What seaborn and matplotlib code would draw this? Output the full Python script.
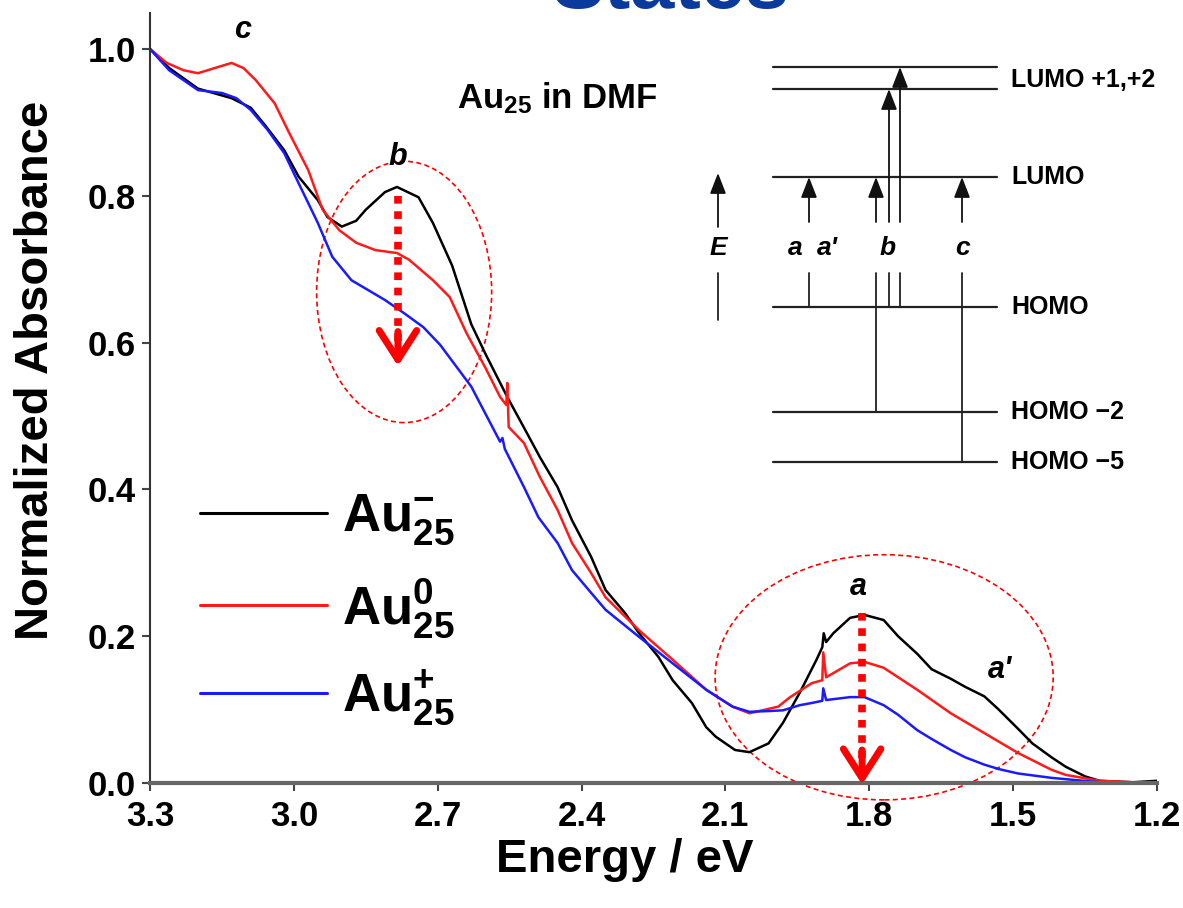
import numpy as np
import pandas as pd
import matplotlib
matplotlib.use("Agg")
import matplotlib.pyplot as plt
import seaborn as sns
from matplotlib.patches import Ellipse

# ---------------- data ----------------
energy_neg = [3.30, 3.26, 3.20, 3.13, 3.09, 3.06, 3.02, 2.99, 2.95, 2.93, 2.90, 2.87, 2.85,
              2.81, 2.785, 2.74, 2.71, 2.67, 2.63, 2.60, 2.555, 2.52, 2.487, 2.45, 2.42, 2.38,
              2.35, 2.31, 2.28, 2.24, 2.21, 2.17, 2.14, 2.12, 2.08, 2.05, 2.01, 1.98, 1.945,
              1.91, 1.898, 1.895, 1.89, 1.875, 1.84, 1.81, 1.77, 1.74, 1.70, 1.67, 1.63, 1.60,
              1.56, 1.53, 1.49, 1.46, 1.42, 1.39, 1.35, 1.32, 1.25, 1.20]
abs_neg = [1.000, 0.974, 0.946, 0.933, 0.920, 0.896, 0.862, 0.826, 0.794, 0.771, 0.758, 0.766,
           0.781, 0.805, 0.812, 0.798, 0.763, 0.705, 0.625, 0.584, 0.526, 0.484, 0.444, 0.403,
           0.358, 0.308, 0.263, 0.232, 0.204, 0.172, 0.140, 0.109, 0.076, 0.063, 0.045, 0.042,
           0.054, 0.082, 0.123, 0.168, 0.185, 0.204, 0.192, 0.204, 0.225, 0.229, 0.222, 0.200,
           0.176, 0.155, 0.142, 0.131, 0.118, 0.100, 0.074, 0.054, 0.035, 0.022, 0.009, 0.003,
           0.001, 0.003]

energy_neu = [3.30, 3.265, 3.23, 3.20, 3.16, 3.13, 3.105, 3.08, 3.04, 3.01, 2.97, 2.94, 2.905,
              2.87, 2.83, 2.785, 2.76, 2.71, 2.675, 2.64, 2.60, 2.57, 2.557, 2.555, 2.552, 2.52,
              2.487, 2.45, 2.42, 2.38, 2.35, 2.28, 2.21, 2.14, 2.085, 2.05, 1.99, 1.965, 1.92,
              1.898, 1.896, 1.89, 1.84, 1.81, 1.77, 1.70, 1.63, 1.56, 1.49, 1.42, 1.39, 1.32,
              1.25, 1.20]
abs_neu = [1.000, 0.981, 0.971, 0.967, 0.975, 0.981, 0.974, 0.958, 0.926, 0.886, 0.835, 0.781,
           0.753, 0.736, 0.726, 0.722, 0.713, 0.685, 0.662, 0.613, 0.565, 0.526, 0.515, 0.545,
           0.485, 0.463, 0.417, 0.372, 0.327, 0.286, 0.253, 0.208, 0.168, 0.127, 0.104, 0.095,
           0.104, 0.117, 0.136, 0.140, 0.178, 0.144, 0.163, 0.165, 0.157, 0.127, 0.095, 0.068,
           0.041, 0.018, 0.011, 0.003, 0.001, 0.001]

energy_pos = [3.30, 3.26, 3.20, 3.15, 3.12, 3.09, 3.055, 3.02, 2.99, 2.95, 2.92, 2.88, 2.81,
              2.77, 2.73, 2.695, 2.63, 2.57, 2.565, 2.56, 2.52, 2.49, 2.45, 2.42, 2.38, 2.35,
              2.28, 2.21, 2.14, 2.085, 2.05, 2.01, 1.98, 1.945, 1.92, 1.898, 1.896, 1.89, 1.84,
              1.81, 1.77, 1.74, 1.70, 1.67, 1.63, 1.60, 1.56, 1.53, 1.49, 1.42, 1.32, 1.28, 1.20]
abs_pos = [1.000, 0.971, 0.944, 0.940, 0.933, 0.917, 0.890, 0.858, 0.817, 0.763, 0.717, 0.685,
           0.658, 0.640, 0.621, 0.597, 0.540, 0.465, 0.470, 0.455, 0.403, 0.362, 0.327, 0.290,
           0.259, 0.236, 0.199, 0.163, 0.127, 0.104, 0.097, 0.098, 0.099, 0.106, 0.109, 0.112,
           0.129, 0.113, 0.117, 0.117, 0.106, 0.093, 0.072, 0.060, 0.045, 0.035, 0.025, 0.019,
           0.013, 0.007, 0.001, 0.000, 0.001]

series_labels = [r"Au$^{-}_{25}$", r"Au$^{0}_{25}$", r"Au$^{+}_{25}$"]
series_colors = ["#000000", "#ff1a1a", "#1a1aff"]

x_ticks = [3.3, 3.0, 2.7, 2.4, 2.1, 1.8, 1.5, 1.2]
y_ticks = [0.0, 0.2, 0.4, 0.6, 0.8, 1.0]

# peak annotations (label, energy, absorbance)
peak_labels = ["c", "b", "a", "a'"]
peak_x = [3.106, 2.783, 1.823, 1.527]
peak_y = [1.026, 0.853, 0.267, 0.154]

# energy-level diagram (diagram units: pixel rows of the inset)
level_y = [67, 89, 177, 307, 412, 462]
level_text = ["LUMO +1,+2", "LUMO", "HOMO", "HOMO \u22122", "HOMO \u22125"]
level_text_y = [80, 177, 307, 412, 462]
trans_x = [809, 876, 889, 900, 962]
trans_from = [307, 412, 307, 307, 462]
trans_to = [177, 177, 89, 67, 177]
trans_text = ["E", "a", "a'", "b", "c"]
trans_text_x = [718, 795, 827, 888, 962]

# ---------------- style ----------------
sns.set_theme(style="ticks")
plt.rcParams["font.family"] = ["Liberation Sans", "DejaVu Sans"]
plt.rcParams["font.weight"] = "bold"
plt.rcParams["mathtext.fontset"] = "custom"
plt.rcParams["mathtext.rm"] = "Liberation Sans:bold"
plt.rcParams["mathtext.it"] = "Liberation Sans:italic:bold"
plt.rcParams["mathtext.bf"] = "Liberation Sans:bold"
plt.rcParams["mathtext.default"] = "rm"
for k in ["text.color", "axes.labelcolor", "xtick.color", "ytick.color"]:
    plt.rcParams[k] = "black"

W, H = 1183, 908
fig = plt.figure(figsize=(W / 100, H / 100), dpi=100)
fig.patch.set_facecolor("white")
ax = fig.add_axes([150 / W, 1 - 783 / H, 1007 / W, 770 / H])

frames = []
for lab, xs, ys in zip(series_labels, [energy_neg, energy_neu, energy_pos],
                       [abs_neg, abs_neu, abs_pos]):
    frames.append(pd.DataFrame({"Energy": xs, "Abs": ys, "state": lab}))
df = pd.concat(frames, ignore_index=True)

sns.lineplot(data=df, x="Energy", y="Abs", hue="state", hue_order=series_labels,
             palette=dict(zip(series_labels, series_colors)), sort=False, estimator=None,
             linewidth=1.8, ax=ax)

ax.set_xlim(3.3, 1.2)
ax.set_ylim(0, 1.049)
ax.set_xticks(x_ticks)
ax.set_yticks(y_ticks)
ax.set_xticklabels([f"{v:.1f}" for v in x_ticks], fontsize=25, fontweight="bold")
ax.set_yticklabels([f"{v:.1f}" for v in y_ticks], fontsize=25, fontweight="bold")
ax.tick_params(axis="both", direction="out", length=6, width=1.5, color="#444444",
               labelcolor="black")
ax.tick_params(axis="x", pad=6)
ax.tick_params(axis="y", pad=4)
for s in ["top", "right"]:
    ax.spines[s].set_visible(False)
ax.spines["left"].set_color("#333333")
ax.spines["left"].set_linewidth(1.5)
ax.spines["bottom"].set_color("#666666")
ax.spines["bottom"].set_linewidth(3)
ax.set_xlabel("Energy / eV", fontsize=34, fontweight="bold", color="black")
ax.set_ylabel("Normalized Absorbance", fontsize=34, fontweight="bold", color="black")
ax.xaxis.set_label_coords(0.4717, -0.072)
ax.yaxis.set_label_coords(-0.091, 0.536)
ax.set_facecolor("white")

leg = ax.legend(frameon=False, fontsize=38, handlelength=2.4, handletextpad=0.28,
                labelspacing=0.55, loc="center left", bbox_to_anchor=(0.05, 0.2245),
                borderpad=0, borderaxespad=0)
for line in leg.get_lines():
    line.set_linewidth(2.2)
for txt in leg.get_texts():
    txt.set_color("black")

# peak labels
for t, x, y in zip(peak_labels, peak_x, peak_y):
    ax.text(x, y, t, fontsize=22, fontstyle="italic", fontweight="bold",
            ha="center", va="center", color="black")

ax.text(2.451, 0.933, r"Au$_{25}$ in DMF", fontsize=25, fontweight="bold",
        ha="center", va="center", color="black")

# dashed ellipses
ax.add_patch(Ellipse((2.770, 0.669), 0.365, 0.356, fill=False, ec="red", lw=1.2,
                     ls=(0, (3, 2)), clip_on=False))
ax.add_patch(Ellipse((1.769, 0.144), 0.705, 0.334, fill=False, ec="red", lw=1.2,
                     ls=(0, (3, 2)), clip_on=False))

# dotted red arrows
for xa, y0, y1 in [(2.783, 0.800, 0.585), (1.815, 0.232, 0.015)]:
    ax.plot([xa, xa], [y0, y1], color="red", lw=5.5, ls=(0, (1, 1)), solid_capstyle="butt",
            clip_on=False)
    ax.annotate("", xy=(xa, y1 - 0.017), xytext=(xa, y1 + 0.03),
                arrowprops=dict(arrowstyle="->,head_length=0.7,head_width=0.45",
                                color="red", lw=5, mutation_scale=30, shrinkA=0, shrinkB=0),
                annotation_clip=False)

# ---------------- energy-level inset ----------------
ins = fig.add_axes([700 / W, 1 - 480 / H, 483 / W, 430 / H])
ins.set_xlim(700, 1183)
ins.set_ylim(480, 50)
ins.axis("off")
ins.patch.set_alpha(0)
for yv in level_y:
    ins.plot([773, 997], [yv, yv], color="#222222", lw=1.6)
for t, yv in zip(level_text, level_text_y):
    ins.text(1011, yv, t, fontsize=18, fontweight="bold", ha="left", va="center",
             color="black")
gap_lo, gap_hi = 273, 222
for xv, f, t in zip(trans_x, trans_from, trans_to):
    ins.plot([xv, xv], [f, gap_lo], color="#222222", lw=1.3)
    ins.annotate("", xy=(xv, t), xytext=(xv, gap_hi),
                 arrowprops=dict(arrowstyle="-|>,head_length=0.9,head_width=0.35",
                                 color="#111111", lw=1.3, mutation_scale=14,
                                 shrinkA=0, shrinkB=0))
# energy axis arrow
ins.plot([718, 718], [320, gap_lo], color="#222222", lw=1.3)
ins.annotate("", xy=(718, 173), xytext=(718, 227),
             arrowprops=dict(arrowstyle="-|>,head_length=0.9,head_width=0.35",
                             color="#111111", lw=1.3, mutation_scale=14,
                             shrinkA=0, shrinkB=0))
for t, xv in zip(trans_text, trans_text_x):
    ins.text(xv, 248, t, fontsize=19, fontstyle="italic", fontweight="bold",
             ha="center", va="center", color="black")

# truncated slide title (cut by the top edge, as in the reference)
fig.text(671 / W, 1 - 8 / H, "States", fontsize=57, fontweight="bold", color="#0a3a9c",
         ha="center", va="baseline")

fig.savefig("out.png", dpi=100, facecolor="white")
